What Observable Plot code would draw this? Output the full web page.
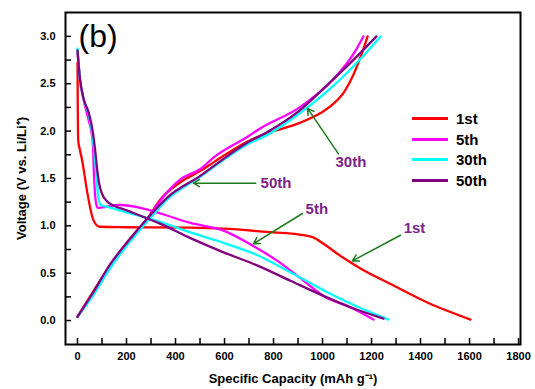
<!DOCTYPE html>
<html><head><meta charset="utf-8">
<script src="https://cdn.jsdelivr.net/npm/d3@7"></script>
<script src="https://cdn.jsdelivr.net/npm/@observablehq/plot@0.6"></script>
<style>
body{margin:0;background:#fff;font-family:Arial,"Liberation Sans",sans-serif;}
#wrap{position:relative;width:535px;height:389px;}
#legend{position:absolute;left:412px;top:108px;font-weight:bold;font-size:15px;color:#000;}
.row{display:flex;align-items:center;height:20.7px;}
.sw{width:36px;height:3px;margin-right:8px;}
</style></head><body><div id="wrap"></div>
<script>
// ---- data ----
const cycles = ["1st", "5th", "30th", "50th"];
const cycleColors = ["#ff0000", "#ff00ff", "#00ffff", "#800080"];

const discharge1st = [[0,2.72],[1,2.3],[3,1.9],[10,1.8],[19,1.69],[40,1.35],[65,1.06],[90,0.99],[200,0.985],[461,0.98],[596,0.97],[800,0.93],[900,0.91],[960,0.88],[1004,0.81],[1080,0.67],[1155,0.55],[1290,0.37],[1428,0.19],[1604,0.01]];
const charge1st = [[0,0.04],[100,0.45],[200,0.82],[286,1.08],[339,1.28],[420,1.46],[502,1.58],[555,1.67],[694,1.89],[775,1.98],[829,2.02],[910,2.09],[992,2.19],[1045,2.29],[1090,2.42],[1127,2.6],[1155,2.78],[1184,3.0]];

const discharge5th = [[0,2.85],[10,2.55],[25,2.33],[45,2.12],[58,1.97],[63,1.85],[67,1.55],[75,1.25],[82,1.19],[100,1.195],[175,1.22],[257,1.19],[339,1.13],[461,1.03],[596,0.95],[735,0.76],[816,0.63],[923,0.42],[1004,0.26],[1114,0.14],[1208,0.01]];
const charge5th = [[0,0.04],[60,0.27],[135,0.58],[204,0.82],[298,1.12],[339,1.27],[420,1.49],[502,1.6],[555,1.72],[694,1.94],[747,2.03],[900,2.24],[1045,2.55],[1135,2.85],[1167,3.0]];

const discharge30th = [[0,2.87],[10,2.55],[24,2.35],[45,2.18],[60,1.98],[68,1.8],[75,1.6],[85,1.3],[95,1.22],[122,1.2],[204,1.14],[339,1.04],[461,0.93],[596,0.82],[735,0.69],[869,0.51],[1004,0.32],[1114,0.18],[1270,0.01]];
const charge30th = [[0,0.04],[60,0.25],[135,0.56],[204,0.8],[286,1.05],[367,1.28],[502,1.52],[694,1.86],[775,1.96],[923,2.22],[1045,2.48],[1143,2.73],[1237,3.0]];

const discharge50th = [[0,2.85],[10,2.55],[24,2.35],[45,2.2],[62,2.0],[72,1.8],[80,1.6],[88,1.45],[100,1.34],[120,1.26],[143,1.22],[204,1.16],[339,1.02],[461,0.87],[596,0.72],[735,0.58],[869,0.42],[1004,0.26],[1114,0.14],[1249,0.02]];
const charge50th = [[0,0.04],[60,0.28],[135,0.6],[204,0.83],[286,1.08],[367,1.3],[502,1.53],[555,1.63],[694,1.88],[775,1.99],[898,2.2],[1045,2.55],[1114,2.72],[1220,3.0]];

const xTicks = [0,200,400,600,800,1000,1200,1400,1600,1800];
const xMinorTicks = [0,100,200,300,400,500,600,700,800,900,1000,1100,1200,1300,1400,1500,1600,1700,1800];
const yTicks = [0,0.5,1.0,1.5,2.0,2.5,3.0];
const yMinorTicks = [0,0.25,0.5,0.75,1.0,1.25,1.5,1.75,2.0,2.25,2.5,2.75,3.0];

const annLabels = ["50th", "30th", "5th", "1st"];
const annTextCap = [747, 1053, 931, 1331];
const annTextV = [1.45, 1.67, 1.18, 0.97];
const annTailCap = [727, 1065, 918, 1318];
const annTailV = [1.45, 1.76, 1.13, 0.90];
const annTipCap = [473, 939, 718, 1122];
const annTipV = [1.45, 2.24, 0.81, 0.63];

const xLabel = "Specific Capacity (mAh g\u207B\u00B9)";
const yLabel = "Voltage (V vs. Li/Li\u207A)";
const panelTag = "(b)";

// ---- layout ----
const W = 535, H = 389, mL = 65, mR = 15, mT = 12, mB = 45;
const xDom = [-49, 1808], yDom = [-0.253, 3.252];
const tickPx = 6;
const xPerPx = (xDom[1] - xDom[0]) / (W - mL - mR);
const yPerPx = (yDom[1] - yDom[0]) / (H - mT - mB);

// ---- build tables ----
const curves = [
  ["1st", "d", discharge1st], ["1st", "c", charge1st],
  ["5th", "d", discharge5th], ["5th", "c", charge5th],
  ["30th", "d", discharge30th], ["30th", "c", charge30th],
  ["50th", "d", discharge50th], ["50th", "c", charge50th]
];
const rows = curves.flatMap(([cycle, seg, pts]) => pts.map(([cap, v]) => ({cycle, seg, key: cycle + seg, cap, v})));
const ann = annLabels.map((t, i) => ({t, tx: annTextCap[i], ty: annTextV[i], x1: annTailCap[i], y1: annTailV[i], x2: annTipCap[i], y2: annTipV[i]}));

const font = "Arial, 'Liberation Sans', sans-serif";
const plot = Plot.plot({
  width: W, height: H,
  marginLeft: mL, marginRight: mR, marginTop: mT, marginBottom: mB,
  x: {domain: xDom},
  y: {domain: yDom},
  color: {domain: cycles, range: cycleColors},
  style: {fontFamily: font, fontSize: "11px", fontWeight: "bold", background: "white", color: "black"},
  marks: [
    Plot.axisX({ticks: xTicks, tickSize: 0, tickPadding: 8, tickFormat: d3.format("d"), label: xLabel, labelAnchor: "center", labelOffset: 38, labelArrow: "none"}),
    Plot.axisY({ticks: yTicks, tickSize: 0, tickPadding: 10, tickFormat: d3.format(".1f"), label: yLabel, labelAnchor: "center", labelOffset: 49, labelArrow: "none"}),
    Plot.ruleX(xMinorTicks, {x: d => d, y1: yDom[0], y2: yDom[0] + tickPx * yPerPx, stroke: "black", strokeWidth: 1.5}),
    Plot.ruleY(yMinorTicks, {y: d => d, x1: xDom[0], x2: xDom[0] + tickPx * xPerPx, stroke: "black", strokeWidth: 1.5}),
    Plot.line(rows, {x: "cap", y: "v", z: "key", stroke: "cycle", strokeWidth: 2.3, curve: "monotone-x", strokeLinejoin: "round"}),
    Plot.arrow(ann, {x1: "x1", y1: "y1", x2: "x2", y2: "y2", stroke: "#1d7a1d", strokeWidth: 1.5, headLength: 7}),
    Plot.text(ann, {x: "tx", y: "ty", text: "t", textAnchor: "start", fill: "#7b2486", fontSize: 15, fontWeight: "bold"}),
    Plot.text([panelTag], {frameAnchor: "top-left", dx: 13, dy: 24, fontSize: 32, fontWeight: "normal", fill: "black", lineAnchor: "middle"}),
    Plot.frame({stroke: "black", strokeWidth: 2})
  ]
});
const wrap = document.getElementById("wrap");
wrap.appendChild(plot);
d3.select(plot).selectAll('[aria-label="x-axis label"] text, [aria-label="y-axis label"] text').style("font-size", "13px").style("font-weight", "bold");

// legend
const leg = document.createElement("div");
leg.id = "legend";
cycles.forEach((c, i) => {
  const r = document.createElement("div"); r.className = "row";
  const s = document.createElement("div"); s.className = "sw"; s.style.background = cycleColors[i];
  const t = document.createElement("span"); t.textContent = c;
  r.appendChild(s); r.appendChild(t); leg.appendChild(r);
});
wrap.appendChild(leg);
</script>
</body></html>
